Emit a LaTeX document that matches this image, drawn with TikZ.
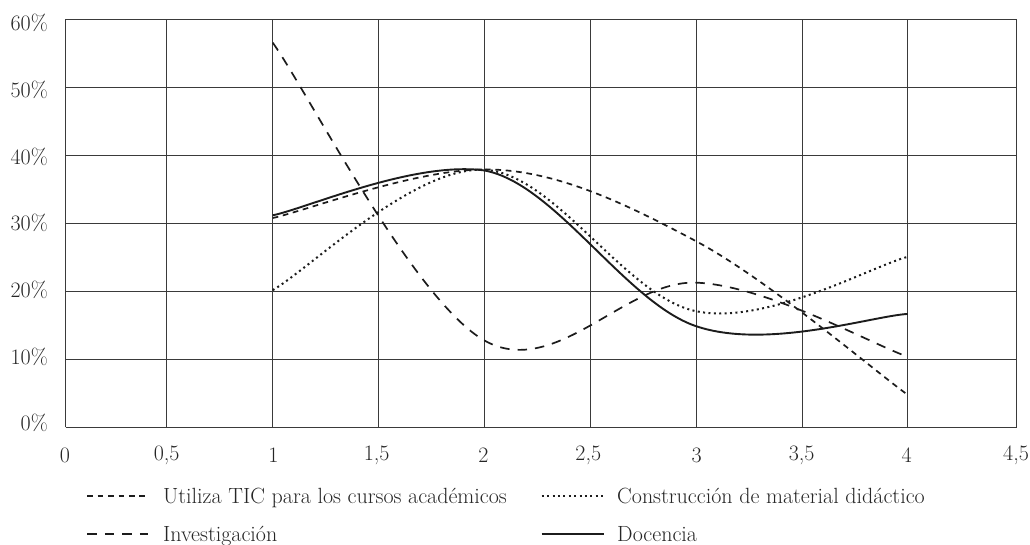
\documentclass[tikz,border=0pt]{standalone}
\usepackage{fontspec}
\setmainfont{Latin Modern Roman}
\usetikzlibrary{calc}
\definecolor{gridc}{HTML}{3A3A3A}
\definecolor{linec}{HTML}{1C1C1C}
\definecolor{textc}{HTML}{262626}
\tikzset{
  gridline/.style={draw=gridc, line width=1.4pt},
  lbl/.style={text=textc, inner sep=0pt, font=\fontsize{22}{26}\selectfont},
  serTIC/.style={draw=linec, line width=1.7pt, dash pattern=on 5.7pt off 4.7pt},
  serInv/.style={draw=linec, line width=1.7pt, dash pattern=on 9.5pt off 8pt},
  serCon/.style={draw=linec, line width=2pt, dash pattern=on 2pt off 3.4pt},
  serDoc/.style={draw=linec, line width=1.9pt},
}
\begin{document}
\begin{tikzpicture}[x=1pt,y=1pt]
\useasboundingbox (0,0) rectangle (1030,545);
% grid (canvas y = 545 - pixel y)
\foreach \xx in {65.5,166.5,272.5,378.5,484.5,590.5,696.5,802.5,907.5,1016.5}
  \draw[gridline] (\xx,117.5) -- (\xx,525.5);
\foreach \k in {0,...,6}
  \draw[gridline] (65.5,{117.5+68*\k}) -- (1016.5,{117.5+68*\k});
% y labels
\foreach \k/\t in {0/0,1/10,2/20,3/30,4/40,5/50,6/60}
  \node[lbl, anchor=east] (yl\k) at (48,{121.7+66.67*\k}) {\t\%};
% x labels
\foreach \xx/\t [count=\i] in {65/0,166.7/{0,5},273.3/1,376.7/{1,5},483.3/2,588.3/{2,5},696.7/3,801.7/{3,5},906.7/4,1016/{4,5}}
  \node[lbl] (xl\i) at (\xx,90) {\t};
% data curves
\begin{scope}[shift={(61.03pt,117.5pt)}, x=211.67pt, y=6.8pt]
  % Investigacion
  \draw[serInv] (1,56.6) .. controls (1.1667,49.3) and (1.6667,18.68) .. (2,12.8)
     .. controls (2.3333,6.917) and (2.6667,21.7) .. (3,21.3)
     .. controls (3.3333,20.9) and (3.8333,12.22) .. (4,10.4);
  % Utiliza TIC
  \draw[serTIC] (1,30.8) .. controls (1.1667,31.98) and (1.6667,37.9) .. (2,37.95)
     .. controls (2.3333,38.0) and (2.6667,32.92) .. (3,27.4)
     .. controls (3.3333,21.88) and (3.8333,8.57) .. (4,4.8);
  % Construccion de material didactico
  \draw[serCon] (1,20.2) .. controls (1.1667,23.15) and (1.6667,38.42) .. (2,37.9)
     .. controls (2.3333,37.38) and (2.6667,19.23) .. (3,17.1)
     .. controls (3.3333,14.97) and (3.8333,23.77) .. (4,25.1);
  % Docencia
  \draw[serDoc] (1,31.2) .. controls (1.1667,32.3) and (1.6667,39.2) .. (2,37.8)
     .. controls (2.3333,35.9) and (2.6667,18.42) .. (3,14.9)
     .. controls (3.3333,11.38) and (3.8333,16.4) .. (4,16.7);
\end{scope}
% legend
\coordinate (la1) at (87.3,49);  \coordinate (lb1) at (148.3,49);
\coordinate (la2) at (87.3,11);  \coordinate (lb2) at (148.3,11);
\coordinate (la3) at (541.7,49); \coordinate (lb3) at (604,49);
\coordinate (la4) at (541.7,11); \coordinate (lb4) at (604,11);
\draw[serTIC] (la1) -- (lb1);
\draw[serInv] (la2) -- (lb2);
\draw[serCon] (la3) -- (lb3);
\draw[serDoc] (la4) -- (lb4);
\node[lbl, anchor=base west] (t1) at (163,41) {Utiliza TIC para los cursos académicos};
\node[lbl, anchor=base west] (t2) at (163,3) {Investigación};
\node[lbl, anchor=base west] (t3) at (617,41) {Construcción de material didáctico};
\node[lbl, anchor=base west] (t4) at (617,3) {Docencia};
\end{tikzpicture}
\end{document}
